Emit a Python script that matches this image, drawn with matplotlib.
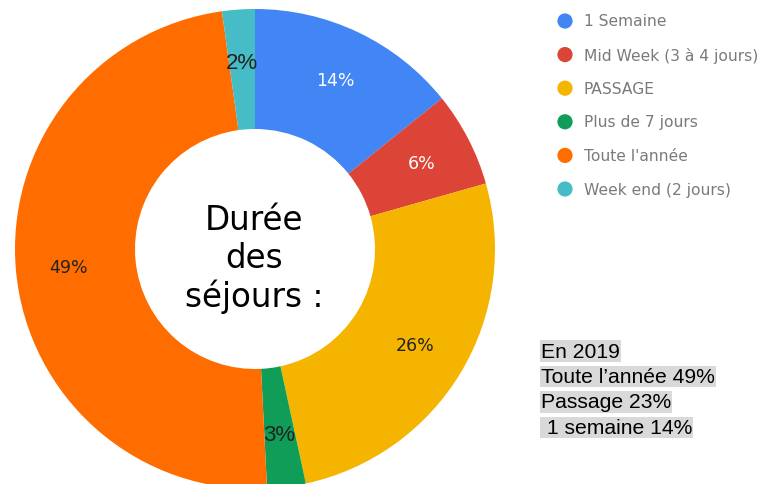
import matplotlib
matplotlib.use("Agg")
import matplotlib.pyplot as plt

# Data
categories = ["1 Semaine", "Mid Week (3 à 4 jours)", "PASSAGE",
              "Plus de 7 jours", "Toute l'année", "Week end (2 jours)"]
shares = [14.2, 6.4, 26.0, 2.6, 48.6, 2.2]
colors = ["#4285F4", "#DB4437", "#F4B400", "#0F9D58", "#FF6D00", "#46BDC6"]
label_colors = ["white", "white", "#222222", "#222222", "#222222", "#222222"]
note_lines = ["En 2019", "Toute l\u2019année 49%", "Passage 23%", " 1 semaine 14%"]

W, H = 775, 485
fig = plt.figure(figsize=(W / 100, H / 100), dpi=100)
ax = fig.add_axes([0, 0, 1, 1])

# Donut
wedges, texts, autotexts = ax.pie(
    shares, colors=colors, startangle=90, counterclock=False,
    center=(255, H - 250), radius=240, frame=True,
    wedgeprops=dict(width=120, linewidth=0),
    autopct="%1.0f%%", pctdistance=0.78,
    textprops=dict(fontsize=12.5, family="DejaVu Sans"))
for t, c in zip(autotexts, label_colors):
    t.set_color(c)
# the small slices use a larger Arial-like font
for i in (3, 5):
    autotexts[i].set_family("Liberation Sans")
    autotexts[i].set_fontsize(16)
ax.set_xlim(0, W)
ax.set_ylim(0, H)
ax.set_aspect("equal")
ax.axis("off")

# Centre title
ax.text(254, H - 259, "Durée\ndes\nséjours :", ha="center", va="center",
        fontsize=23.5, family="DejaVu Sans", linespacing=1.19, color="black")

# Legend
for i, (name, col) in enumerate(zip(categories, colors)):
    y = H - (22 + i * 33.6)
    ax.scatter([565], [y], s=120, color=col, edgecolors="none")
    ax.text(584, y, name, va="center", ha="left", fontsize=11.2,
            family="DejaVu Sans", color="#7a7a7a")

# Note box
for i, line in enumerate(note_lines):
    ax.text(541, H - (352 + i * 25.5), line, va="center", ha="left",
            fontsize=15.2, family="Liberation Sans", color="black",
            bbox=dict(facecolor="#d9d9d9", edgecolor="none", pad=0.8))

fig.savefig("out.png", dpi=100)
